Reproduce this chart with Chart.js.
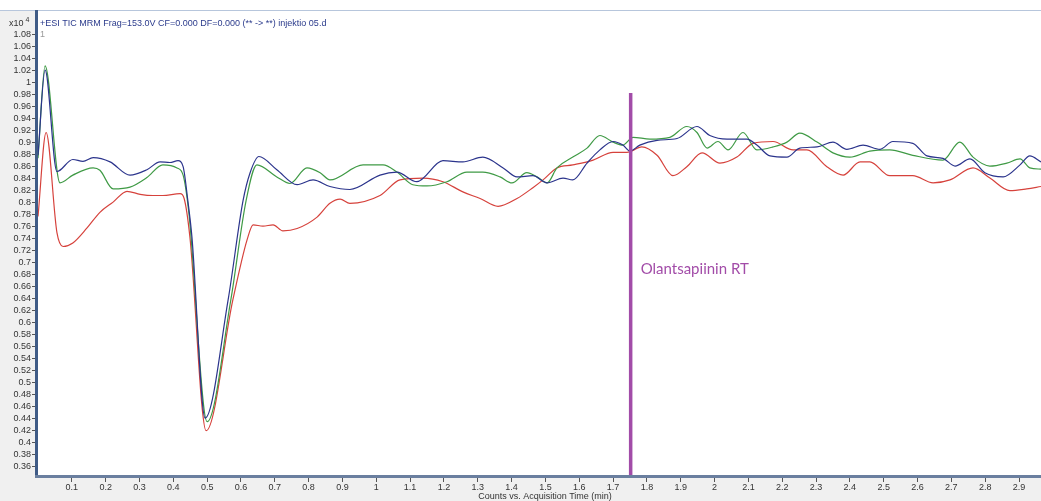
<!DOCTYPE html>
<html>
<head>
<meta charset="utf-8">
<script src="https://cdn.jsdelivr.net/npm/chart.js@4/dist/chart.umd.min.js"></script>
<style>
  html, body { margin: 0; padding: 0; background: #ffffff; overflow: hidden; }
  canvas { display: block; }
</style>
</head>
<body>
<canvas id="tic" width="1041" height="501"></canvas>
<script>
// Tick labels (acquisition time in min, counts in x10^4)
const xTicks = [0.1, 0.2, 0.3, 0.4, 0.5, 0.6, 0.7, 0.8, 0.9, 1, 1.1, 1.2, 1.3, 1.4, 1.5,
                1.6, 1.7, 1.8, 1.9, 2, 2.1, 2.2, 2.3, 2.4, 2.5, 2.6, 2.7, 2.8, 2.9];
const yTicks = [0.36, 0.38, 0.4, 0.42, 0.44, 0.46, 0.48, 0.5, 0.52, 0.54, 0.56, 0.58, 0.6,
                0.62, 0.64, 0.66, 0.68, 0.7, 0.72, 0.74, 0.76, 0.78, 0.8, 0.82, 0.84, 0.86,
                0.88, 0.9, 0.92, 0.94, 0.96, 0.98, 1, 1.02, 1.04, 1.06, 1.08];

// Blue trace
const blueTime = [0.000, 0.021, 0.056, 0.103, 0.133, 0.163, 0.213, 0.272, 0.322, 0.361, 0.390,
  0.414, 0.429, 0.443, 0.455, 0.494, 0.562, 0.606, 0.627, 0.653, 0.706, 0.766, 0.813, 0.863,
  0.922, 1.011, 1.061, 1.120, 1.197, 1.256, 1.315, 1.375, 1.416, 1.463, 1.505, 1.552, 1.581,
  1.623, 1.661, 1.700, 1.729, 1.750, 1.779, 1.830, 1.889, 1.948, 1.986, 2.037, 2.096, 2.125,
  2.164, 2.214, 2.252, 2.303, 2.350, 2.391, 2.439, 2.489, 2.527, 2.586, 2.628, 2.675, 2.711,
  2.755, 2.799, 2.853, 2.903, 2.932, 2.965];
const blueCounts = [0.879, 1.021, 0.852, 0.872, 0.869, 0.875, 0.868, 0.846, 0.855, 0.868, 0.867,
  0.870, 0.860, 0.803, 0.743, 0.441, 0.638, 0.803, 0.850, 0.877, 0.855, 0.830, 0.838, 0.827,
  0.822, 0.846, 0.851, 0.835, 0.870, 0.868, 0.876, 0.858, 0.843, 0.845, 0.833, 0.841, 0.838,
  0.866, 0.888, 0.902, 0.896, 0.886, 0.896, 0.904, 0.907, 0.927, 0.912, 0.906, 0.906, 0.896,
  0.878, 0.876, 0.891, 0.893, 0.901, 0.889, 0.896, 0.889, 0.902, 0.899, 0.878, 0.874, 0.861,
  0.873, 0.850, 0.843, 0.863, 0.878, 0.868];

// Green trace
const greenTime = [0.000, 0.021, 0.065, 0.103, 0.163, 0.183, 0.222, 0.272, 0.322, 0.369, 0.411,
  0.429, 0.446, 0.500, 0.570, 0.615, 0.647, 0.706, 0.745, 0.795, 0.834, 0.863, 0.961, 1.020,
  1.061, 1.108, 1.150, 1.209, 1.268, 1.315, 1.366, 1.401, 1.445, 1.475, 1.505, 1.534, 1.581,
  1.623, 1.661, 1.700, 1.729, 1.759, 1.809, 1.868, 1.918, 1.948, 1.978, 2.010, 2.040, 2.084,
  2.125, 2.173, 2.214, 2.252, 2.303, 2.350, 2.400, 2.459, 2.518, 2.586, 2.675, 2.725, 2.764,
  2.814, 2.864, 2.903, 2.932, 2.965];
const greenCounts = [0.874, 1.028, 0.833, 0.846, 0.858, 0.854, 0.823, 0.826, 0.842, 0.863, 0.858,
  0.846, 0.783, 0.435, 0.638, 0.803, 0.863, 0.843, 0.832, 0.858, 0.850, 0.838, 0.863, 0.863,
  0.851, 0.830, 0.828, 0.835, 0.851, 0.851, 0.843, 0.833, 0.850, 0.843, 0.833, 0.858, 0.876,
  0.891, 0.912, 0.901, 0.896, 0.909, 0.906, 0.909, 0.927, 0.917, 0.891, 0.902, 0.888, 0.917,
  0.888, 0.893, 0.901, 0.916, 0.901, 0.883, 0.876, 0.886, 0.888, 0.879, 0.871, 0.901, 0.876,
  0.861, 0.866, 0.873, 0.858, 0.856];

// Red trace
const redTime = [0.000, 0.024, 0.056, 0.074, 0.103, 0.145, 0.183, 0.222, 0.263, 0.302, 0.340,
  0.369, 0.420, 0.432, 0.449, 0.497, 0.576, 0.618, 0.636, 0.665, 0.695, 0.724, 0.766, 0.825,
  0.863, 0.893, 0.922, 1.011, 1.070, 1.138, 1.197, 1.256, 1.307, 1.360, 1.416, 1.463, 1.493,
  1.534, 1.581, 1.641, 1.700, 1.741, 1.785, 1.830, 1.877, 1.918, 1.963, 2.016, 2.066, 2.114,
  2.173, 2.232, 2.273, 2.332, 2.380, 2.430, 2.459, 2.518, 2.586, 2.646, 2.696, 2.764, 2.814,
  2.873, 2.923, 2.965];
const redCounts = [0.777, 0.917, 0.750, 0.727, 0.733, 0.758, 0.784, 0.801, 0.819, 0.814, 0.812,
  0.812, 0.815, 0.807, 0.743, 0.420, 0.638, 0.738, 0.763, 0.761, 0.763, 0.753, 0.757, 0.776,
  0.799, 0.806, 0.799, 0.812, 0.838, 0.841, 0.835, 0.818, 0.807, 0.794, 0.807, 0.825, 0.838,
  0.858, 0.863, 0.871, 0.884, 0.884, 0.893, 0.879, 0.845, 0.860, 0.883, 0.866, 0.876, 0.899,
  0.902, 0.888, 0.888, 0.860, 0.846, 0.868, 0.868, 0.845, 0.845, 0.833, 0.838, 0.858, 0.841,
  0.820, 0.823, 0.827];

// Retention time marker for olanzapine
const rtTime = [1.752, 1.752];
const rtCounts = [0.983, 0.3462];

const X_MIN = 0, X_MAX = 2.965;
const Y_MIN = 0.3462, Y_MAX = 1.1195;

const toPoints = (xs, ys) => xs.map((x, i) => ({ x: x, y: ys[i] }));

const FONT = "'Liberation Sans', Arial, sans-serif";
Chart.defaults.font.family = FONT;

const frame = {
  id: 'frame',
  beforeDraw(chart) {
    const { ctx, chartArea: a, width, height } = chart;
    ctx.save();
    ctx.fillStyle = '#f0f0f0';
    ctx.fillRect(0, 0, width, height);
    ctx.fillStyle = '#ffffff';
    ctx.fillRect(0, 0, width, a.top - 1);
    ctx.fillRect(a.left, a.top, a.right - a.left, a.bottom - a.top);
    ctx.fillStyle = '#b7c6dc';
    ctx.fillRect(0, a.top - 1, width, 1);
    ctx.restore();
  },
  afterDatasetsDraw(chart) {
    const { ctx, chartArea: a, scales } = chart;
    ctx.save();
    // axis lines
    ctx.fillStyle = '#3f5b86';
    ctx.fillRect(a.left - 3, a.top - 1, 3, a.bottom - a.top + 4);
    ctx.fillStyle = '#6a7f9f';
    ctx.fillRect(a.left - 3, a.bottom, a.right - a.left + 3, 3);

    // header inside the plot
    ctx.textBaseline = 'middle';
    ctx.textAlign = 'left';
    ctx.fillStyle = '#2b3b8c';
    ctx.font = '9px ' + FONT;
    ctx.fillText('+ESI TIC MRM Frag=153.0V CF=0.000 DF=0.000 (** -> **) injektio 05.d', a.left + 2, 23.5);
    ctx.fillStyle = '#9a9a9a';
    ctx.fillText('1', a.left + 2, 35);

    // magnitude label of the y axis
    ctx.fillStyle = '#333333';
    ctx.fillText('x10', 9, 23.5);
    const w = ctx.measureText('x10').width;
    ctx.font = '7px ' + FONT;
    ctx.fillText('4', 9 + w + 2, 20.5);

    // x axis title
    ctx.font = '9px ' + FONT;
    ctx.textAlign = 'center';
    ctx.fillStyle = '#333333';
    ctx.fillText('Counts vs. Acquisition Time (min)', 545, 497);

    // retention time label
    const xr = scales.x.getPixelForValue(rtTime[0]);
    ctx.textAlign = 'left';
    ctx.textBaseline = 'alphabetic';
    ctx.font = "15px Lato, 'Open Sans', sans-serif";
    ctx.fillStyle = '#a24ca8';
    ctx.fillText('Olantsapiinin RT', xr + 10, 274);
    ctx.restore();
  }
};

const lineStyle = (color, order) => ({
  borderColor: color,
  backgroundColor: color,
  borderWidth: 1.2,
  pointRadius: 0,
  pointHoverRadius: 0,
  fill: false,
  cubicInterpolationMode: 'monotone',
  order: order
});

new Chart(document.getElementById('tic'), {
  type: 'line',
  data: {
    datasets: [
      Object.assign({ label: 'RT', data: toPoints(rtTime, rtCounts) }, lineStyle('#a24ca8', 0), { borderWidth: 3.5, cubicInterpolationMode: 'default', tension: 0 }),
      Object.assign({ label: 'blue', data: toPoints(blueTime, blueCounts) }, lineStyle('#2b348c', 1)),
      Object.assign({ label: 'green', data: toPoints(greenTime, greenCounts) }, lineStyle('#3f9a45', 2)),
      Object.assign({ label: 'red', data: toPoints(redTime, redCounts) }, lineStyle('#d6423c', 3))
    ]
  },
  options: {
    responsive: false,
    animation: false,
    events: [],
    layout: { padding: { top: 11, left: 0, right: 0, bottom: 0 } },
    plugins: { legend: { display: false }, title: { display: false }, tooltip: { enabled: false } },
    scales: {
      x: {
        type: 'linear',
        min: X_MIN,
        max: X_MAX,
        afterBuildTicks: (s) => { s.ticks = xTicks.map(v => ({ value: v })); },
        afterFit: (s) => { s.height = 26; },
        border: { display: false },
        grid: { display: true, drawOnChartArea: false, drawTicks: true, tickLength: 7, tickColor: '#555555', lineWidth: 1 },
        ticks: {
          autoSkip: false, maxRotation: 0, minRotation: 0, padding: 0,
          color: '#333333', font: { size: 9 },
          callback: (v) => String(+v.toFixed(2))
        }
      },
      y: {
        type: 'linear',
        min: Y_MIN,
        max: Y_MAX,
        afterBuildTicks: (s) => { s.ticks = yTicks.map(v => ({ value: v })); },
        afterFit: (s) => { s.width = 38; },
        border: { display: false },
        grid: { display: true, drawOnChartArea: false, drawTicks: true, tickLength: 6, tickColor: '#555555', lineWidth: 1 },
        ticks: {
          autoSkip: false, padding: 1,
          color: '#333333', font: { size: 9 },
          callback: (v) => String(+v.toFixed(2))
        }
      }
    }
  },
  plugins: [frame]
});
</script>
</body>
</html>
